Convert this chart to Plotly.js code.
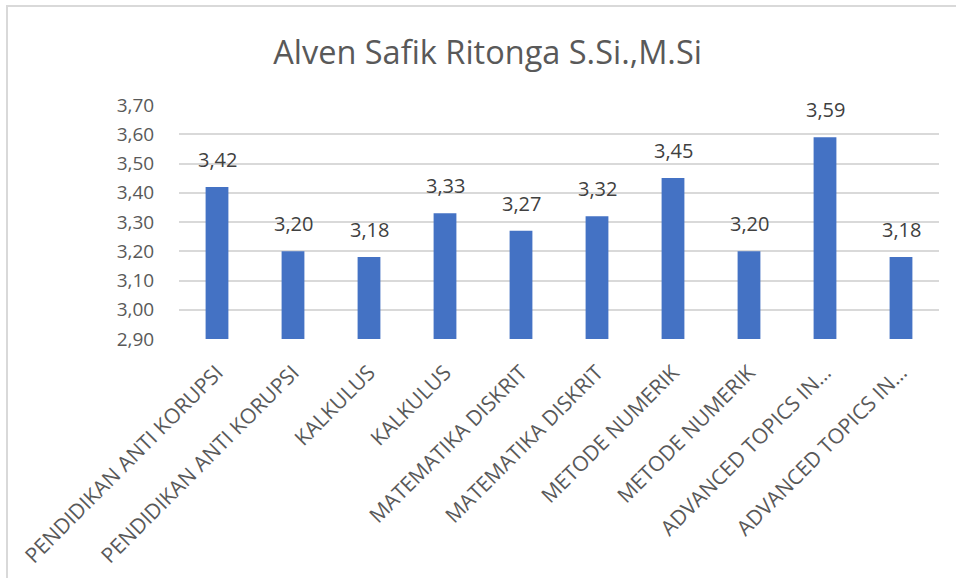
<!DOCTYPE html>
<html>
<head>
<meta charset="utf-8">
<script src="https://cdn.plot.ly/plotly-3.0.1.min.js"></script>
<style>
  html, body { margin: 0; padding: 0; background: #ffffff; }
  #wrap { position: relative; width: 956px; height: 578px; overflow: hidden; }
  #chart { width: 956px; height: 578px; }
  #frame { position: absolute; left: 6px; top: 5px; width: 1000px; height: 700px;
           border-left: 2px solid #d9d9d9; border-top: 2px solid #d9d9d9; pointer-events: none; }
</style>
</head>
<body>
<div id="wrap">
  <div id="chart"></div>
  <div id="frame"></div>
</div>
<script>
const chartTitle = "Alven Safik Ritonga S.Si.,M.Si";
const categories = [
  "PENDIDIKAN ANTI KORUPSI",
  "PENDIDIKAN ANTI KORUPSI",
  "KALKULUS",
  "KALKULUS",
  "MATEMATIKA DISKRIT",
  "MATEMATIKA DISKRIT",
  "METODE NUMERIK",
  "METODE NUMERIK",
  "ADVANCED TOPICS IN…",
  "ADVANCED TOPICS IN…"
];
const values = [3.42, 3.20, 3.18, 3.33, 3.27, 3.32, 3.45, 3.20, 3.59, 3.18];
const yTicks = [2.9, 3.0, 3.1, 3.2, 3.3, 3.4, 3.5, 3.6, 3.7];

const positions = categories.map((_, i) => i);
const fmt = v => v.toFixed(2).replace('.', ',');

const FONT = "'Open Sans', 'DejaVu Sans', sans-serif";

const trace = {
  type: 'bar',
  x: positions,
  y: values,
  marker: { color: '#4472C4', line: { width: 0 } },
  hoverinfo: 'none'
};

const annotations = positions.map((p, i) => ({
  x: p, y: values[i], xref: 'x', yref: 'y',
  text: fmt(values[i]),
  showarrow: false,
  yanchor: 'bottom',
  yshift: 12,
  font: { family: FONT, size: 20, color: '#404040' }
}));

const layout = {
  width: 956, height: 578,
  margin: { l: 179, r: 17, t: 105, b: 239 },
  paper_bgcolor: '#ffffff',
  plot_bgcolor: '#ffffff',
  separators: ',.',
  showlegend: false,
  bargap: 0.7,
  title: {
    text: chartTitle,
    x: 0.51, xref: 'container', xanchor: 'center',
    y: 1 - 53 / 578, yref: 'container', yanchor: 'middle',
    font: { family: FONT, size: 32.5, color: '#595959' }
  },
  xaxis: {
    range: [-0.5, categories.length - 0.5],
    tickmode: 'array',
    tickvals: positions,
    ticktext: categories,
    tickangle: -45,
    ticks: 'outside', ticklen: 12, tickcolor: 'rgba(0,0,0,0)',
    showgrid: false, zeroline: false, showline: false,
    tickfont: { family: FONT, size: 21, color: '#595959' },
    fixedrange: true
  },
  yaxis: {
    range: [2.9, 3.7],
    tickmode: 'array',
    tickvals: yTicks,
    ticktext: yTicks.map(fmt),
    ticks: 'outside', ticklen: 20, tickcolor: 'rgba(0,0,0,0)',
    showgrid: true, gridcolor: '#d9d9d9', gridwidth: 2,
    zeroline: false, showline: false,
    tickfont: { family: FONT, size: 19, color: '#595959' },
    fixedrange: true
  },
  annotations: annotations
};

Plotly.newPlot('chart', [trace], layout, { displayModeBar: false, staticPlot: true });
</script>
</body>
</html>
